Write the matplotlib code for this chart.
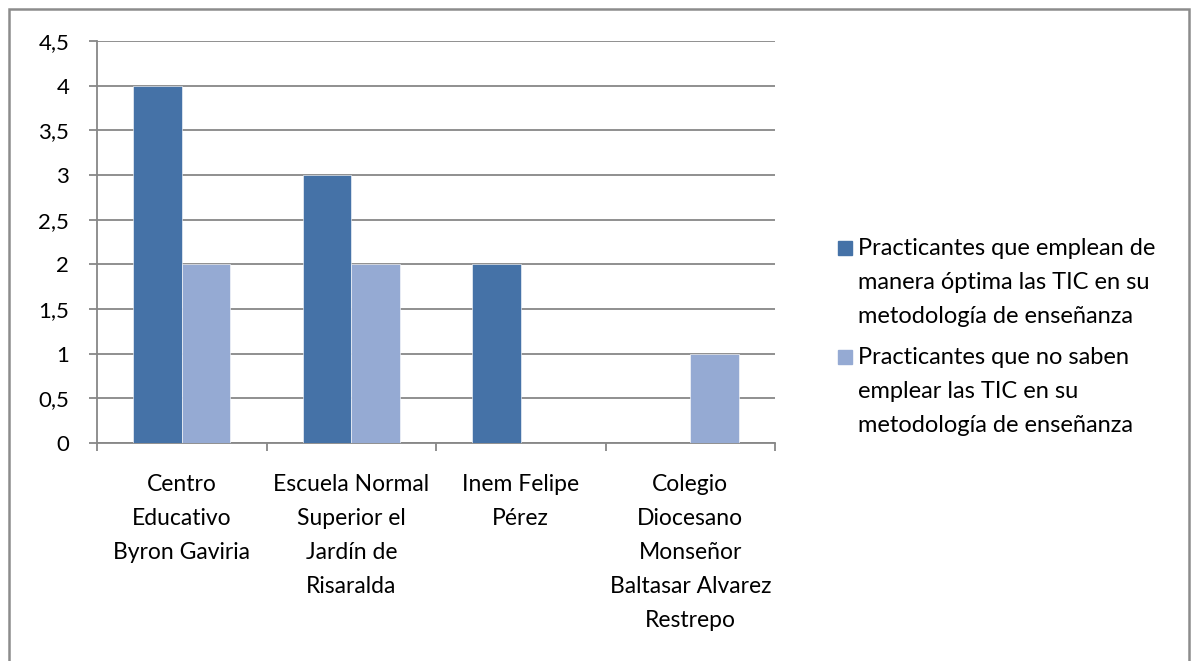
import numpy as np
import matplotlib.pyplot as plt
from matplotlib.patches import Rectangle
from matplotlib.ticker import FuncFormatter

categorias = ["Centro\nEducativo\nByron Gaviria",
              "Escuela Normal\nSuperior el\nJardín de\nRisaralda",
              "Inem Felipe\nPérez",
              "Colegio\nDiocesano\nMonseñor\nBaltasar Alvarez\nRestrepo"]
emplean_optima = [4, 3, 2, 0]
no_saben = [2, 2, 0, 1]
series = ["Practicantes que emplean de\nmanera óptima las TIC en su\nmetodología de enseñanza",
          "Practicantes que no saben\nemplear las TIC en su\nmetodología de enseñanza"]
colores = ["#4572A7", "#95AAD3"]

W, H = 1196, 661
plt.rcParams['font.family'] = ['Lato', 'DejaVu Sans']
fig = plt.figure(figsize=(W / 100, H / 100), dpi=100)

# marco gris (el borde inferior queda fuera de la imagen)
fig.add_artist(Rectangle((8.5 / W, -20 / H), 1180 / W, (H - 9 + 20) / H, transform=fig.transFigure,
                         fill=False, edgecolor="#8c8c8c", linewidth=1.8))

ax = fig.add_axes([97 / W, (H - 443) / H, (775 - 97) / W, (443 - 41) / H])

x = np.arange(len(categorias))
w = 0.286
ax.bar(x - w / 2, emplean_optima, w, color=colores[0], edgecolor="white", linewidth=0.4, zorder=3)
ax.bar(x + w / 2, no_saben, w, color=colores[1], edgecolor="white", linewidth=0.4, zorder=3)

ax.set_xlim(-0.5, len(categorias) - 0.5)
ax.set_ylim(0, 4.5)
ax.set_yticks(np.arange(0, 4.51, 0.5))
ax.yaxis.set_major_formatter(FuncFormatter(lambda v, p: ('%g' % v).replace('.', ',')))
ax.grid(axis='y', color="#878787", linewidth=1.3, zorder=0)

ax.set_xticks(np.arange(-0.5, len(categorias)), [])
ax.set_xticks(x, categorias, minor=True)
ax.tick_params(axis='x', which='major', length=6, width=1.3, color="#878787")
ax.tick_params(axis='x', which='minor', length=0, pad=22, labelsize=16.5)
ax.tick_params(axis='y', length=6, width=1.3, color="#878787", pad=14, labelsize=16)
for lbl in ax.get_xticklabels(minor=True):
    lbl.set_linespacing(1.77)

for s in ['top', 'right']:
    ax.spines[s].set_visible(False)
for s in ['left', 'bottom']:
    ax.spines[s].set_color("#878787")
    ax.spines[s].set_linewidth(1.3)

# leyenda
for i, (txt, c) in enumerate(zip(series, colores)):
    ytop = 248 + i * 109
    fig.add_artist(Rectangle((838 / W, (H - ytop - 7) / H), 14 / W, 14 / H,
                             transform=fig.transFigure, color=c))
    fig.text(858 / W, (H - ytop + 10) / H, txt, fontsize=17, va='top', ha='left',
             linespacing=1.77)

fig.savefig("out.png", dpi=100)
